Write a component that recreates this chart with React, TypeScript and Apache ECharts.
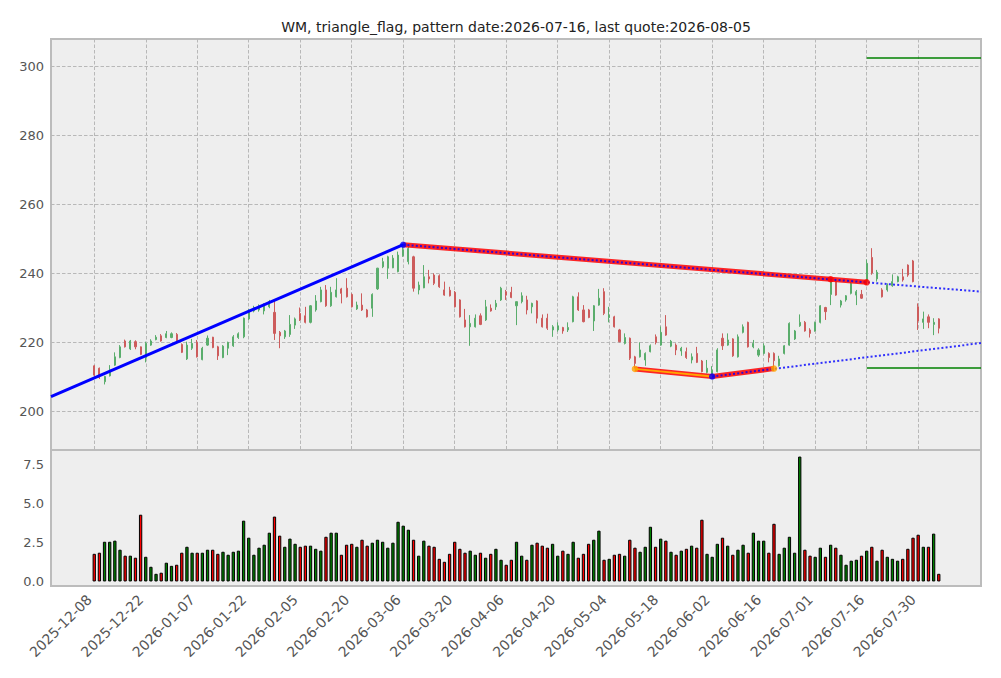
import React, { useEffect, useRef } from "react";
import * as echarts from "echarts";

const dates = [
  "2025-12-08","2025-12-09","2025-12-10","2025-12-11","2025-12-12","2025-12-15","2025-12-16","2025-12-17","2025-12-18","2025-12-19",
  "2025-12-22","2025-12-23","2025-12-24","2025-12-26","2025-12-29","2025-12-30","2025-12-31","2026-01-02","2026-01-05","2026-01-06",
  "2026-01-07","2026-01-08","2026-01-09","2026-01-12","2026-01-13","2026-01-14","2026-01-15","2026-01-16","2026-01-20","2026-01-21",
  "2026-01-22","2026-01-23","2026-01-26","2026-01-27","2026-01-28","2026-01-29","2026-01-30","2026-02-02","2026-02-03","2026-02-04",
  "2026-02-05","2026-02-06","2026-02-09","2026-02-10","2026-02-11","2026-02-12","2026-02-13","2026-02-17","2026-02-18","2026-02-19",
  "2026-02-20","2026-02-23","2026-02-24","2026-02-25","2026-02-26","2026-02-27","2026-03-02","2026-03-03","2026-03-04","2026-03-05",
  "2026-03-06","2026-03-09","2026-03-10","2026-03-11","2026-03-12","2026-03-13","2026-03-16","2026-03-17","2026-03-18","2026-03-19",
  "2026-03-20","2026-03-23","2026-03-24","2026-03-25","2026-03-26","2026-03-27","2026-03-30","2026-03-31","2026-04-01","2026-04-02",
  "2026-04-06","2026-04-07","2026-04-08","2026-04-09","2026-04-10","2026-04-13","2026-04-14","2026-04-15","2026-04-16","2026-04-17",
  "2026-04-20","2026-04-21","2026-04-22","2026-04-23","2026-04-24","2026-04-27","2026-04-28","2026-04-29","2026-04-30","2026-05-01",
  "2026-05-04","2026-05-05","2026-05-06","2026-05-07","2026-05-08","2026-05-11","2026-05-12","2026-05-13","2026-05-14","2026-05-15",
  "2026-05-18","2026-05-19","2026-05-20","2026-05-21","2026-05-22","2026-05-26","2026-05-27","2026-05-28","2026-05-29","2026-06-01",
  "2026-06-02","2026-06-03","2026-06-04","2026-06-05","2026-06-08","2026-06-09","2026-06-10","2026-06-11","2026-06-12","2026-06-15",
  "2026-06-16","2026-06-17","2026-06-18","2026-06-22","2026-06-23","2026-06-24","2026-06-25","2026-06-26","2026-06-29","2026-06-30",
  "2026-07-01","2026-07-02","2026-07-06","2026-07-07","2026-07-08","2026-07-09","2026-07-10","2026-07-13","2026-07-14","2026-07-15",
  "2026-07-16","2026-07-17","2026-07-20","2026-07-21","2026-07-22","2026-07-23","2026-07-24","2026-07-27","2026-07-28","2026-07-29",
  "2026-07-30","2026-07-31","2026-08-03","2026-08-04","2026-08-05",
];

const opens = [
  213.1,212.4,208.5,210.2,213.3,215.5,220.3,218.0,220.1,218.6,
  215.5,219.1,220.7,221.8,221.3,221.3,222.2,219.3,215.1,218.2,
  219.9,214.9,219.1,221.4,218.6,215.5,218.2,218.9,221.3,221.5,
  226.7,229.0,229.3,229.0,230.2,228.6,222.8,221.5,222.2,224.9,
  228.3,227.6,225.7,229.3,231.7,235.1,230.5,233.1,235.4,235.6,
  233.8,229.6,230.7,229.3,229.8,235.4,241.8,241.4,241.5,240.4,
  245.0,243.3,244.7,235.1,235.7,238.9,239.4,239.2,235.1,235.0,
  234.4,232.2,226.4,224.4,224.4,227.6,226.4,229.8,230.2,232.2,
  234.6,234.4,230.5,231.7,232.2,230.2,231.9,226.9,226.9,223.5,
  223.5,224.2,223.5,225.9,233.1,229.3,229.3,226.1,230.7,234.6,
  227.1,227.3,223.5,219.6,221.1,215.7,215.7,214.8,217.2,221.5,
  219.1,224.4,218.8,219.1,217.4,217.2,214.8,216.7,214.5,211.2,
  210.8,211.4,221.1,219.1,220.9,215.7,222.8,225.7,218.6,216.2,
  216.7,216.7,216.7,213.1,216.7,219.1,220.9,224.7,225.7,223.5,
  223.2,225.7,230.0,233.8,237.5,230.7,232.2,234.1,233.6,233.8,
  237.6,244.5,238.3,235.1,235.1,236.3,237.5,238.9,242.3,243.5,
  230.2,225.7,227.3,225.1,226.7,
];

const closes = [
  210.4,209.7,210.0,211.9,215.7,218.6,218.6,220.3,218.6,216.4,
  219.6,220.3,221.4,220.3,222.4,222.4,219.9,217.0,219.1,219.6,
  215.7,218.2,221.1,218.4,216.0,218.8,219.9,221.5,222.4,226.9,
  229.3,230.0,230.5,230.7,231.7,222.5,221.8,223.2,225.1,226.7,
  226.4,225.7,230.5,231.9,235.1,230.5,234.4,235.1,234.1,233.1,
  230.2,230.7,229.3,227.3,233.8,241.4,243.3,244.7,244.3,245.2,
  246.7,247.1,235.6,236.5,238.9,238.3,237.0,236.0,233.6,233.4,
  230.2,227.3,224.4,225.4,226.9,225.1,230.2,229.0,231.2,235.6,
  233.6,232.9,231.7,233.4,229.3,231.2,226.9,224.4,224.0,224.4,
  224.7,223.2,224.2,233.1,229.3,225.9,227.1,230.5,232.7,228.3,
  227.8,224.4,220.1,221.3,215.3,213.8,217.7,216.7,218.9,219.9,
  222.8,222.0,220.2,217.7,218.2,215.5,215.7,214.1,211.4,212.4,
  211.8,217.7,218.9,220.6,216.0,221.5,224.4,218.6,219.6,217.7,
  218.9,215.5,214.6,215.1,218.9,225.4,223.2,225.7,223.2,222.5,
  225.7,230.5,228.8,238.0,233.6,231.9,233.4,237.0,234.6,232.7,
  242.8,240.0,240.2,233.1,236.5,237.5,238.9,238.0,239.4,237.5,
  226.1,226.7,225.7,225.7,224.0,
];

const lows = [
  210.0,209.3,207.7,210.0,213.1,215.3,218.4,217.7,217.9,216.2,
  214.1,218.9,220.5,220.1,221.1,221.1,219.5,216.8,214.8,217.7,
  215.5,214.7,218.9,218.2,214.8,215.3,216.2,218.6,220.9,221.1,
  226.4,228.6,228.8,228.0,229.8,220.6,218.2,220.9,221.5,223.8,
  226.1,225.4,225.4,228.8,231.5,230.2,230.2,232.9,231.2,232.9,
  230.0,229.3,229.0,227.1,227.3,235.1,241.4,238.3,241.4,240.2,
  244.7,242.5,234.6,233.8,235.6,237.0,236.5,235.7,233.4,233.2,
  230.0,227.1,224.2,218.9,224.2,224.9,226.1,228.8,229.3,231.9,
  232.2,232.7,224.9,231.2,228.0,228.3,225.4,224.2,223.5,221.5,
  223.0,222.4,222.9,225.7,229.0,225.7,226.9,223.2,230.5,227.8,
  225.7,224.2,219.9,219.3,214.8,212.3,215.5,213.1,217.0,219.3,
  218.9,221.8,218.5,216.2,216.0,215.1,213.8,213.9,211.2,210.9,
  210.0,211.2,217.7,218.9,215.7,215.5,222.5,218.4,218.2,215.7,
  216.4,214.1,212.6,212.9,216.4,218.9,220.6,224.4,223.0,221.3,
  223.0,225.4,226.4,230.7,233.4,230.0,231.7,233.8,230.7,232.5,
  236.5,239.5,237.5,232.9,234.6,236.0,237.3,237.5,238.9,237.3,
  223.5,223.8,224.0,222.0,222.5,
];

const highs = [
  213.3,212.6,210.2,213.3,217.0,219.1,220.7,220.6,220.5,218.7,
  220.1,220.8,222.0,222.3,223.2,222.8,222.6,219.6,220.1,220.9,
  220.6,218.6,221.9,221.5,218.9,219.1,220.1,222.0,222.8,227.1,
  229.6,230.5,230.9,231.2,232.2,231.9,223.2,223.5,227.8,227.1,
  230.0,230.2,230.7,233.6,236.0,236.5,236.0,238.5,235.7,238.5,
  234.1,231.7,234.1,229.6,234.1,241.5,244.4,245.0,245.2,246.2,
  248.2,247.6,245.0,237.5,242.3,240.9,239.9,239.6,237.5,236.0,
  234.8,232.4,229.6,227.8,228.0,228.3,232.2,230.9,232.2,236.0,
  235.1,236.0,231.7,234.4,233.4,231.4,232.1,228.0,228.2,224.9,
  225.7,224.4,225.7,233.4,234.4,230.7,229.6,230.7,235.4,235.6,
  230.2,227.6,223.8,222.5,221.3,216.0,219.9,217.0,219.3,222.2,
  224.5,227.8,220.6,219.6,218.6,218.4,216.7,218.6,214.8,214.8,
  213.0,218.2,222.5,222.5,221.1,222.2,225.1,225.9,220.6,218.2,
  219.6,217.0,217.0,216.0,219.1,225.7,223.5,228.0,226.1,224.0,
  225.9,230.7,230.2,238.6,238.0,232.2,233.6,237.3,235.1,235.1,
  243.9,247.2,240.9,235.6,237.0,239.6,239.2,241.2,242.5,243.8,
  231.2,228.8,228.0,226.9,226.9,
];

const volumes = [
  1.77,1.84,2.54,2.54,2.61,2.03,1.65,1.65,1.52,4.27,
  1.58,0.94,0.49,0.56,1.20,1.00,1.07,1.84,2.22,1.84,
  1.84,1.84,2.03,2.03,1.77,1.90,1.71,1.90,1.97,3.89,
  2.80,1.71,2.16,2.35,3.12,4.15,2.93,2.22,2.74,2.41,
  2.22,2.29,2.29,2.09,1.97,2.86,3.12,3.12,1.71,2.35,
  2.41,2.22,2.67,2.29,2.48,2.67,2.54,2.16,2.48,3.82,
  3.57,3.31,2.67,1.65,2.61,2.29,2.22,1.45,1.26,1.77,
  2.54,2.09,1.84,1.97,1.71,1.84,1.52,1.77,2.09,1.39,
  1.07,1.39,2.54,1.65,1.39,2.35,2.48,2.29,2.16,2.41,
  1.65,1.97,1.77,2.54,1.52,1.77,2.41,2.67,3.25,1.39,
  1.45,1.71,1.77,1.65,2.67,2.16,1.90,2.22,3.50,2.22,
  2.74,2.61,1.90,1.71,1.97,2.09,2.29,2.16,3.95,1.77,
  1.58,2.41,2.80,2.29,1.71,2.03,2.35,1.84,3.12,2.61,
  2.61,1.84,3.69,1.77,2.16,2.86,1.84,7.99,2.03,1.65,
  1.58,2.16,1.58,2.35,2.16,1.71,1.07,1.33,1.39,1.65,
  1.97,2.22,1.33,2.03,1.58,1.45,1.33,1.45,2.09,2.80,
  2.99,2.22,2.22,3.06,0.49,
];

// tick positions (trading-day index) and labels
const dateTickIdx = [0, 10, 20, 30, 40, 50, 60, 70, 80, 90, 100, 110, 120, 130, 140, 150, 160];
const priceTicks = [200, 220, 240, 260, 280, 300];
const volumeTicks = [0, 2.5, 5, 7.5];

// pattern geometry (index, price)
const leadLine = [[-8.4, 204.2], [60, 248.2]];
const upperPivots = [[60, 248.2], [143, 238.2], [150, 237.3]];
const lowerPivots = [[105, 212.2], [120, 210.0], [132, 212.3]];
const upperProjection = [[60, 248.2], [172.2, 234.6]];
const lowerProjection = [[120, 210.0], [172.2, 219.7]];
const targetLevels = [302.3, 212.5];
const targetSpan = [150, 172.2];
const pivotColors = ["#0000ff", "#ff0000", "#ff0000"];
const lowerPivotColors = ["#ffa500", "#0000ff", "#ffa500"];

const TITLE = "WM, triangle_flag, pattern date:2026-07-16, last quote:2026-08-05";
const FONT = "DejaVu Sans";

export default function App() {
  const ref = useRef<HTMLDivElement>(null);

  useEffect(() => {
    document.body.style.margin = "0";
    if (!ref.current) return;
    const chart = echarts.init(ref.current, null, { renderer: "svg" });

    const xMin = -8.4;
    const xMax = 172.2;

    const candleData = dates.map((_, i) => [i, opens[i], closes[i], lows[i], highs[i]]);
    const volData = dates.map((_, i) => ({
      value: [i, volumes[i]],
      itemStyle: { color: closes[i] >= opens[i] ? "#008000" : "#ff0000" },
    }));

    const dotData = [
      ...upperPivots.map((p, k) => ({ value: p, itemStyle: { color: pivotColors[k] } })),
      ...lowerPivots.map((p, k) => ({ value: p, itemStyle: { color: lowerPivotColors[k] } })),
    ];

    const gridLine = { show: true, lineStyle: { color: "#b8b8b8", type: [3.5, 2], width: 1 } };
    const labelStyle = { color: "#555555", fontSize: 13, fontFamily: FONT };

    const option: any = {
      animation: false,
      backgroundColor: "#ffffff",
      textStyle: { fontFamily: FONT },
      graphic: [
        {
          type: "text",
          x: 516,
          y: 27,
          style: {
            text: TITLE,
            fill: "#222222",
            font: `14px "${FONT}"`,
            textAlign: "center",
            textVerticalAlign: "middle",
          },
        },
      ],
      grid: [
        {
          left: 51, right: 20, top: 39, height: 411,
          show: true, backgroundColor: "#eeeeee", borderColor: "#bcbcbc", borderWidth: 2,
        },
        {
          left: 51, right: 20, top: 450, height: 136,
          show: true, backgroundColor: "#eeeeee", borderColor: "#bcbcbc", borderWidth: 2,
        },
      ],
      xAxis: [
        {
          type: "value", gridIndex: 0, min: xMin, max: xMax,
          axisLine: { show: false },
          axisTick: { show: false, customValues: dateTickIdx },
          axisLabel: { show: false, customValues: dateTickIdx },
          splitLine: gridLine,
        },
        {
          type: "value", gridIndex: 1, min: xMin, max: xMax,
          axisLine: { show: false },
          axisTick: { show: false, customValues: dateTickIdx },
          axisLabel: {
            ...labelStyle,
            fontSize: 14,
            customValues: dateTickIdx,
            rotate: 45,
            margin: 16,
            verticalAlign: "bottom",
            formatter: (v: number) => dates[Math.round(v)] ?? "",
          },
          splitLine: { show: false },
        },
      ],
      yAxis: [
        {
          type: "value", gridIndex: 0, min: 188.7, max: 307.83,
          axisLine: { show: false },
          axisTick: { show: false, customValues: priceTicks },
          axisLabel: { ...labelStyle, customValues: priceTicks, margin: 7 },
          splitLine: gridLine,
        },
        {
          type: "value", gridIndex: 1, min: -0.29, max: 8.41,
          axisLine: { show: false },
          axisTick: { show: false, customValues: volumeTicks },
          axisLabel: {
            ...labelStyle,
            customValues: volumeTicks,
            margin: 7,
            formatter: (v: number) => v.toFixed(1),
          },
          splitLine: { show: false },
        },
      ],
      series: [
        {
          type: "candlestick",
          xAxisIndex: 0, yAxisIndex: 0,
          data: candleData,
          encode: { x: 0, y: [1, 2, 3, 4] },
          barWidth: 1.6,
          itemStyle: {
            color: "#5aad6c", color0: "#cd5c5c",
            borderColor: "#5aad6c", borderColor0: "#cd5c5c",
            borderWidth: 1,
          },
          z: 2,
        },
        {
          type: "line", xAxisIndex: 0, yAxisIndex: 0, data: leadLine,
          showSymbol: false, lineStyle: { color: "#0000ff", width: 3 }, z: 3,
        },
        {
          type: "line", xAxisIndex: 0, yAxisIndex: 0, data: upperPivots,
          showSymbol: false, lineStyle: { color: "#ff0000", width: 5, opacity: 0.85 }, z: 3,
        },
        {
          type: "line", xAxisIndex: 0, yAxisIndex: 0, data: lowerPivots,
          showSymbol: false, lineStyle: { color: "#ff0000", width: 5, opacity: 0.85 }, z: 3,
        },
        {
          type: "line", xAxisIndex: 0, yAxisIndex: 0, data: lowerPivots.slice(0, 2),
          showSymbol: false, lineStyle: { color: "#ffa500", width: 1.8 }, z: 4,
        },
        {
          type: "line", xAxisIndex: 0, yAxisIndex: 0, data: upperProjection,
          showSymbol: false, lineStyle: { color: "rgba(0,0,255,0.8)", width: 2, type: [2, 2.2] }, z: 4,
        },
        {
          type: "line", xAxisIndex: 0, yAxisIndex: 0, data: lowerProjection,
          showSymbol: false, lineStyle: { color: "rgba(0,0,255,0.8)", width: 2, type: [2, 2.2] }, z: 4,
        },
        ...targetLevels.map((lv) => ({
          type: "line", xAxisIndex: 0, yAxisIndex: 0,
          data: [[targetSpan[0], lv], [targetSpan[1], lv]],
          showSymbol: false, lineStyle: { color: "#008000", width: 1.5 }, z: 3,
        })),
        {
          type: "scatter", xAxisIndex: 0, yAxisIndex: 0, data: dotData,
          symbol: "circle", symbolSize: 6.5, z: 5,
        },
        {
          type: "bar", xAxisIndex: 1, yAxisIndex: 1, data: volData,
          barWidth: 3.3,
          itemStyle: { borderColor: "#000000", borderWidth: 1 },
        },
      ],
    };

    chart.setOption(option);
    return () => chart.dispose();
  }, []);

  return (
    <div
      ref={ref}
      style={{ position: "absolute", left: 0, top: 0, width: 1001, height: 678 }}
    />
  );
}
